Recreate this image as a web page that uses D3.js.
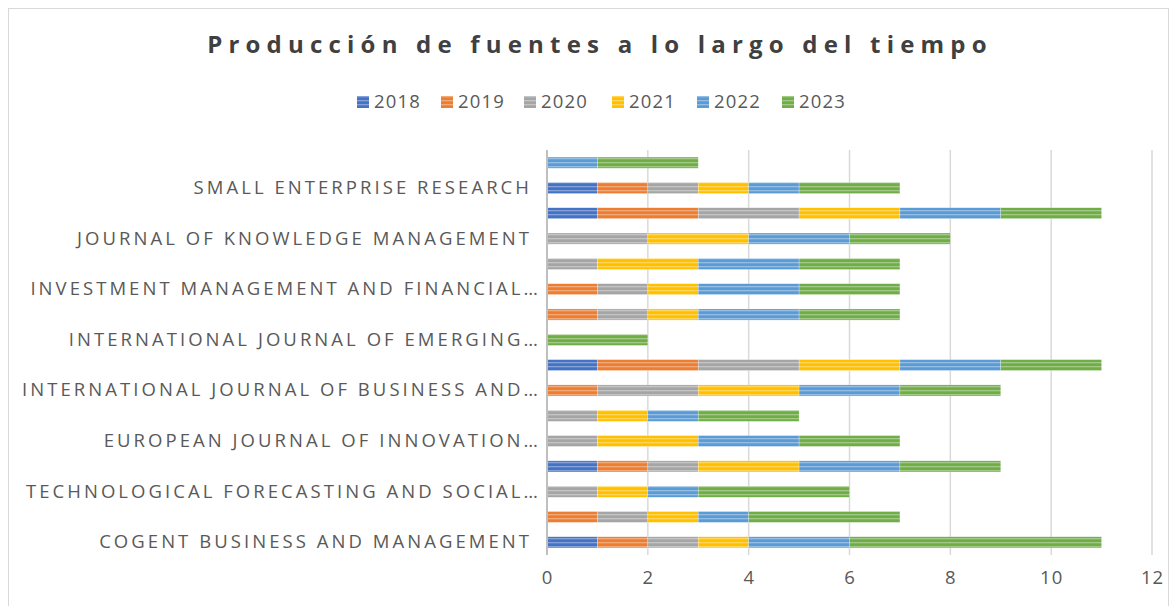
<!DOCTYPE html>
<html>
<head>
<meta charset="utf-8">
<title>Producción de fuentes a lo largo del tiempo</title>
<script src="https://d3js.org/d3.v7.min.js"></script>
<style>
  body { margin: 0; background: #fff; }
  text { font-family: "Open Sans", "DejaVu Sans", sans-serif; }
</style>
</head>
<body>
<script>
// categories bottom -> top; Excel only shows every other label (null = hidden)
var categories = [
  "COGENT BUSINESS AND MANAGEMENT", null,
  "TECHNOLOGICAL FORECASTING AND SOCIAL…", null,
  "EUROPEAN JOURNAL OF INNOVATION…", null,
  "INTERNATIONAL JOURNAL OF BUSINESS AND…", null,
  "INTERNATIONAL JOURNAL OF EMERGING…", null,
  "INVESTMENT MANAGEMENT AND FINANCIAL…", null,
  "JOURNAL OF KNOWLEDGE MANAGEMENT", null,
  "SMALL ENTERPRISE RESEARCH", null
];
var years = ["2018", "2019", "2020", "2021", "2022", "2023"];
var v2018 = [1, 0, 0, 1, 0, 0, 0, 1, 0, 0, 0, 0, 0, 1, 1, 0];
var v2019 = [1, 1, 0, 1, 0, 0, 1, 2, 0, 1, 1, 0, 0, 2, 1, 0];
var v2020 = [1, 1, 1, 1, 1, 1, 2, 2, 0, 1, 1, 1, 2, 2, 1, 0];
var v2021 = [1, 1, 1, 2, 2, 1, 2, 2, 0, 1, 1, 2, 2, 2, 1, 0];
var v2022 = [2, 1, 1, 2, 2, 1, 2, 2, 0, 2, 2, 2, 2, 2, 1, 1];
var v2023 = [5, 3, 3, 2, 2, 2, 2, 2, 2, 2, 2, 2, 2, 2, 2, 2];
var xTicks = [0, 2, 4, 6, 8, 10, 12];
var colors = ["#4472C4", "#ED7D31", "#A5A5A5", "#FFC000", "#5B9BD5", "#70AD47"];

var series = [v2018, v2019, v2020, v2021, v2022, v2023];
var rows = categories.map(function(c, i) {
  var r = {idx: i, name: c};
  years.forEach(function(y, k) { r[y] = series[k][i]; });
  return r;
});

var W = 1176, H = 606;
var svg = d3.select("body").append("svg").attr("width", W).attr("height", H);

// striped fills like the Excel pattern
var defs = svg.append("defs");
years.forEach(function(y, k) {
  var p = defs.append("pattern")
      .attr("id", "pat" + y)
      .attr("patternUnits", "userSpaceOnUse")
      .attr("width", 8).attr("height", 4);
  p.append("rect").attr("width", 8).attr("height", 4).attr("fill", colors[k]);
  p.append("rect").attr("y", 2).attr("width", 8).attr("height", 1.3)
      .attr("fill", "#fff").attr("opacity", 0.35);
});

// chart frame
svg.append("rect")
    .attr("x", 8.5).attr("y", 8.5).attr("width", 1160).attr("height", 600)
    .attr("fill", "#fff").attr("stroke", "#d9d9d9");

svg.append("text")
    .attr("x", 600).attr("y", 53)
    .attr("text-anchor", "middle")
    .attr("font-size", 24).attr("font-weight", "bold")
    .attr("letter-spacing", 6.2)
    .attr("fill", "#404040")
    .text("Producción de fuentes a lo largo del tiempo");

var x = d3.scaleLinear().domain([0, 12]).range([547, 1152]);
var y = d3.scaleBand()
    .domain(rows.map(function(d) { return d.idx; }).reverse())
    .range([150, 555])
    .paddingInner(0.56).paddingOuter(0.28);

// gridlines
svg.append("g")
  .selectAll("line")
  .data(xTicks.slice(1))
  .join("line")
    .attr("x1", function(d) { return x(d); })
    .attr("x2", function(d) { return x(d); })
    .attr("y1", 150).attr("y2", 555)
    .attr("stroke", "#d9d9d9").attr("stroke-width", 1.5);

var stack = d3.stack().keys(years)(rows);

svg.append("g")
  .selectAll("g")
  .data(stack)
  .join("g")
    .attr("fill", function(d) { return "url(#pat" + d.key + ")"; })
  .selectAll("rect")
  .data(function(d) { return d.filter(function(s) { return s[1] > s[0]; }); })
  .join("rect")
    .attr("x", function(d) { return x(d[0]); })
    .attr("y", function(d) { return y(d.data.idx); })
    .attr("width", function(d) { return x(d[1]) - x(d[0]); })
    .attr("height", y.bandwidth())
    .attr("stroke", "#fff").attr("stroke-opacity", 0.4).attr("stroke-width", 0.6);

// vertical axis line
svg.append("line")
    .attr("x1", 547).attr("x2", 547).attr("y1", 150).attr("y2", 555)
    .attr("stroke", "#bfbfbf").attr("stroke-width", 2);

// category labels (full names keep a trailing gap in the original)
var yAxis = d3.axisLeft(y)
    .tickSize(0).tickPadding(6)
    .tickFormat(function(d) { return categories[d] || ""; });
svg.append("g")
    .attr("transform", "translate(547,0)")
    .call(yAxis)
    .call(function(g) { g.select(".domain").remove(); })
    .selectAll("text")
    .attr("x", function(d) {
      var c = categories[d];
      return c && c.slice(-1) !== "…" ? -15 : -6;
    })
    .attr("font-family", "'Open Sans', sans-serif")
    .attr("letter-spacing", 3.05)
    .attr("font-size", 18.5).attr("fill", "#595959");

// value axis
var xAxis = d3.axisBottom(x).tickValues(xTicks).tickSize(0).tickPadding(16);
svg.append("g")
    .attr("transform", "translate(0,555)")
    .call(xAxis)
    .call(function(g) { g.select(".domain").remove(); })
    .selectAll("text")
    .attr("font-family", "'Open Sans', sans-serif")
    .attr("letter-spacing", 1)
    .attr("font-size", 18.5).attr("fill", "#595959");

// legend
var legX = [357, 441, 524, 612, 697, 782];
var leg = svg.append("g").selectAll("g")
  .data(years)
  .join("g")
    .attr("transform", function(d, i) { return "translate(" + legX[i] + ",102)"; });
leg.append("rect")
    .attr("x", 0).attr("y", -6).attr("width", 12).attr("height", 12)
    .attr("fill", function(d) { return "url(#pat" + d + ")"; });
leg.append("text")
    .attr("x", 17).attr("dy", "0.35em")
    .attr("letter-spacing", 1.2)
    .attr("font-size", 18.5).attr("fill", "#595959")
    .text(function(d) { return d; });
</script>
</body>
</html>
